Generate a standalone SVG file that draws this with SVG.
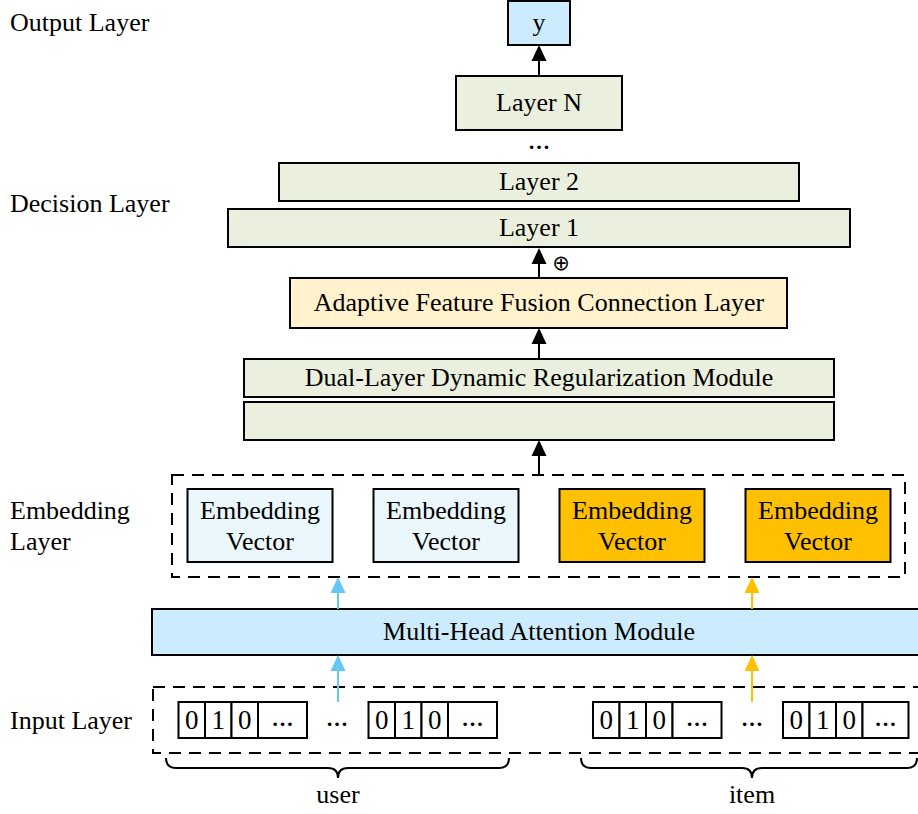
<svg xmlns="http://www.w3.org/2000/svg" width="918" height="814" viewBox="0 0 918 814">
  <style>
    text { font-family: "Liberation Serif", "Times New Roman", serif; font-size: 26px; fill: #000; }
    .c { text-anchor: middle; }
    .box { stroke: #000; stroke-width: 2; }
    .green { fill: #EAF0DD; }
    .sky { fill: #CCEBFD; }
    .pale { fill: #EAF7FD; }
    .amber { fill: #FFC000; }
    .cream { fill: #FFF2CC; }
    .cell { fill: #fff; stroke: #000; stroke-width: 2; }
    .dash { fill: none; stroke: #000; stroke-width: 2; stroke-dasharray: 12 8; }
    .brace { fill: none; stroke: #000; stroke-width: 2; }
    .dig { font-size: 27px; }
    .dots { font-weight: bold; font-size: 22px; }
    .conn { fill: none; stroke-width: 2; }
  </style>
  <defs>
    <marker id="ah-black" viewBox="0 -8 16 16" refX="12" refY="0" markerWidth="16" markerHeight="16" markerUnits="userSpaceOnUse" orient="auto">
      <path d="M0,-7.5 L16,0 L0,7.5 z" fill="#000"/>
    </marker>
    <marker id="ah-blue" viewBox="0 -8 16 16" refX="12" refY="0" markerWidth="16" markerHeight="16" markerUnits="userSpaceOnUse" orient="auto">
      <path d="M0,-7.5 L16,0 L0,7.5 z" fill="#66C7F4"/>
    </marker>
    <marker id="ah-amber" viewBox="0 -8 16 16" refX="12" refY="0" markerWidth="16" markerHeight="16" markerUnits="userSpaceOnUse" orient="auto">
      <path d="M0,-7.5 L16,0 L0,7.5 z" fill="#FFC000"/>
    </marker>
  </defs>

  <!-- layer captions on the left -->
  <g id="captions">
    <text x="10" y="31">Output Layer</text>
    <text x="10" y="212">Decision Layer</text>
    <text x="10" y="519">Embedding</text>
    <text x="10" y="550">Layer</text>
    <text x="10" y="729">Input Layer</text>
  </g>

  <!-- output -->
  <g id="node-y">
    <rect class="box sky" x="508" y="1" width="62" height="44"/>
    <text class="c" x="539" y="31">y</text>
  </g>

  <!-- decision stack -->
  <g id="node-layer-n">
    <rect class="box green" x="456" y="76" width="166" height="54"/>
    <text class="c" x="539" y="111">Layer N</text>
  </g>
  <g id="node-ellipsis">
    <text class="c dots" x="539" y="149">…</text>
  </g>
  <g id="node-layer-2">
    <rect class="box green" x="279" y="163" width="520" height="38"/>
    <text class="c" x="539" y="190">Layer 2</text>
  </g>
  <g id="node-layer-1">
    <rect class="box green" x="228" y="209" width="622" height="38"/>
    <text class="c" x="539" y="236">Layer 1</text>
  </g>
  <g id="node-oplus">
    <text x="561" y="270" style="font-family: 'DejaVu Sans', sans-serif; font-size: 21px;" text-anchor="middle">⊕</text>
  </g>
  <g id="node-fusion">
    <rect class="box cream" x="290" y="278" width="497" height="50"/>
    <text class="c" x="539" y="311">Adaptive Feature Fusion Connection Layer</text>
  </g>
  <g id="node-regularization">
    <rect class="box green" x="244" y="359" width="590" height="38"/>
    <text class="c" x="539" y="386">Dual-Layer Dynamic Regularization Module</text>
    <rect class="box green" x="244" y="402" width="590" height="38"/>
  </g>

  <!-- embedding layer -->
  <g id="node-embedding">
    <rect class="dash" x="172" y="475" width="733" height="102"/>
    <rect class="box pale" x="187.5" y="489" width="145" height="73"/>
    <text class="c" x="260" y="519">Embedding</text>
    <text class="c" x="260" y="550">Vector</text>
    <rect class="box pale" x="373.5" y="489" width="145" height="73"/>
    <text class="c" x="446" y="519">Embedding</text>
    <text class="c" x="446" y="550">Vector</text>
    <rect class="box amber" x="559.5" y="489" width="145" height="73"/>
    <text class="c" x="632" y="519">Embedding</text>
    <text class="c" x="632" y="550">Vector</text>
    <rect class="box amber" x="745.5" y="489" width="145" height="73"/>
    <text class="c" x="818" y="519">Embedding</text>
    <text class="c" x="818" y="550">Vector</text>
  </g>

  <!-- attention -->
  <g id="node-attention">
    <rect class="box sky" x="152" y="609" width="772" height="46"/>
    <text class="c" x="539" y="640">Multi-Head Attention Module</text>
  </g>

  <!-- one-hot inputs -->
  <g id="node-input">
    <rect class="dash" x="153" y="687" width="771" height="66"/>
    <g id="user-field-1">
      <rect class="cell" x="178.5" y="702" width="26.5" height="36"/>
      <rect class="cell" x="205" y="702" width="26.5" height="36"/>
      <rect class="cell" x="231.5" y="702" width="26.5" height="36"/>
      <rect class="cell" x="258" y="702" width="49" height="36"/>
      <text class="c dig" x="191.7" y="729">0</text>
      <text class="c dig" x="218.2" y="729">1</text>
      <text class="c dig" x="244.7" y="729">0</text>
      <text class="c dots" x="282.5" y="726">…</text>
    </g>
    <text class="c dots" x="337" y="726">…</text>
    <g id="user-field-n">
      <rect class="cell" x="368.5" y="702" width="26.5" height="36"/>
      <rect class="cell" x="395" y="702" width="26.5" height="36"/>
      <rect class="cell" x="421.5" y="702" width="26.5" height="36"/>
      <rect class="cell" x="448" y="702" width="49" height="36"/>
      <text class="c dig" x="381.7" y="729">0</text>
      <text class="c dig" x="408.2" y="729">1</text>
      <text class="c dig" x="434.7" y="729">0</text>
      <text class="c dots" x="472.5" y="726">…</text>
    </g>
    <g id="item-field-1">
      <rect class="cell" x="593" y="702" width="26.5" height="36"/>
      <rect class="cell" x="619.5" y="702" width="26.5" height="36"/>
      <rect class="cell" x="646" y="702" width="26.5" height="36"/>
      <rect class="cell" x="672.5" y="702" width="49" height="36"/>
      <text class="c dig" x="606.2" y="729">0</text>
      <text class="c dig" x="632.7" y="729">1</text>
      <text class="c dig" x="659.2" y="729">0</text>
      <text class="c dots" x="697" y="726">…</text>
    </g>
    <text class="c dots" x="752" y="726">…</text>
    <g id="item-field-n">
      <rect class="cell" x="783" y="702" width="26.5" height="36"/>
      <rect class="cell" x="809.5" y="702" width="26.5" height="36"/>
      <rect class="cell" x="836" y="702" width="26.5" height="36"/>
      <rect class="cell" x="862.5" y="702" width="46" height="36"/>
      <text class="c dig" x="796.2" y="729">0</text>
      <text class="c dig" x="822.7" y="729">1</text>
      <text class="c dig" x="849.2" y="729">0</text>
      <text class="c dots" x="885.5" y="726">…</text>
    </g>
  </g>

  <!-- field groupings -->
  <g id="node-user">
    <path class="brace" d="M166,758 Q166,768 176,768 L328,768 Q338,768 338,778 Q338,768 348,768 L499,768 Q509,768 509,758"/>
    <text class="c" x="338" y="803">user</text>
  </g>
  <g id="node-item">
    <path class="brace" d="M581,758 Q581,768 591,768 L742,768 Q752,768 752,778 Q752,768 762,768 L907,768 Q917,768 917,758"/>
    <text class="c" x="752" y="803">item</text>
  </g>

  <!-- connectors -->
  <g id="connectors">
    <line class="conn" x1="539" y1="76" x2="539" y2="49" stroke="#000" marker-end="url(#ah-black)"/>
    <line class="conn" x1="539" y1="278" x2="539" y2="252" stroke="#000" marker-end="url(#ah-black)"/>
    <line class="conn" x1="539" y1="359" x2="539" y2="332" stroke="#000" marker-end="url(#ah-black)"/>
    <line class="conn" x1="539" y1="475" x2="539" y2="444" stroke="#000" marker-end="url(#ah-black)"/>
    <line class="conn" x1="338" y1="702" x2="338" y2="659" stroke="#66C7F4" marker-end="url(#ah-blue)"/>
    <line class="conn" x1="338" y1="609" x2="338" y2="581" stroke="#66C7F4" marker-end="url(#ah-blue)"/>
    <line class="conn" x1="752" y1="702" x2="752" y2="659" stroke="#FFC000" marker-end="url(#ah-amber)"/>
    <line class="conn" x1="752" y1="609" x2="752" y2="581" stroke="#FFC000" marker-end="url(#ah-amber)"/>
  </g>
</svg>
